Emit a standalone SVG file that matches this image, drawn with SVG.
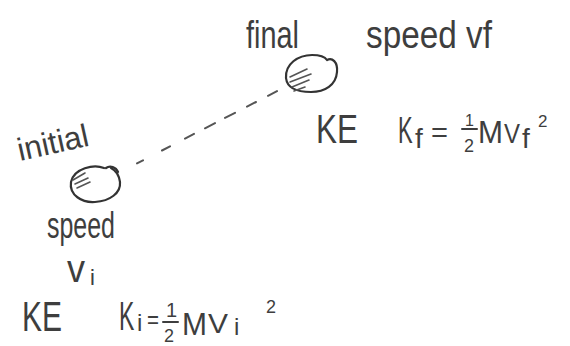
<svg xmlns="http://www.w3.org/2000/svg" width="570" height="346" viewBox="0 0 570 346">
<defs>
<style>
.hw{font-family:"Liberation Sans","DejaVu Sans",sans-serif;fill:#3e3e3e;}
.ball{fill:none;stroke:#333;stroke-width:2.2;stroke-linecap:round;stroke-linejoin:round;}
.hatch{fill:none;stroke:#555;stroke-width:1.6;stroke-linecap:round;}
.dash{fill:none;stroke:#555;stroke-width:2;stroke-linecap:round;}
.pen{fill:none;stroke:#3e3e3e;stroke-width:2;stroke-linecap:round;}
</style>
<linearGradient id="edge" x1="0" y1="0" x2="0" y2="1">
<stop offset="0" stop-color="#e6e6e6"/>
<stop offset="0.45" stop-color="#9a9a9a"/>
<stop offset="1" stop-color="#555"/>
</linearGradient>
</defs>
<rect width="570" height="346" fill="#fff"/>
<line x1="568.5" y1="40" x2="568.5" y2="346" stroke="url(#edge)" stroke-width="1.6"/>

<g id="connectors">
<path class="dash" d="M137,163.4 L143,160.3 M162,150.5 L170,146.3 M185,138.6 L194,133.9 M205,128.3 L215,123.1 M225,117.9 L235,112.8 M247,106.6 L256,102 M268,95.8 L277,91.1"/>
</g>

<g id="final-ball">
<path class="ball" d="M286,78 C285,64 298,55 312,55 C320,55 325,57 327,60 C332,57 338,62 337,72 C336,85 325,92 311,92 C296,92 287,87 286,78 Z"/>
<path class="hatch" d="M290,77 L307,69 M290,82 L311,74 M292,87 L309,80 M294,91 L305,87"/>
</g>

<g id="initial-ball">
<path class="ball" d="M104,168 C94,164 74,168 71,182 C69,195 82,203 95,202 C110,201 121,193 120,182 C119,175 115,170 111,168"/>
<path class="ball" d="M106,168 C110,165 116,167 118,172"/>
<path class="hatch" d="M73,180 L85,173 M75,184 L88,178 M77,188 L90,182"/>
</g>

<g id="final-labels">
<text class="hw" x="246" y="48" font-size="38" textLength="53" lengthAdjust="spacingAndGlyphs">final</text>
<text class="hw" x="366" y="48" font-size="38" textLength="126" lengthAdjust="spacingAndGlyphs">speed vf</text>
<text class="hw" x="316" y="143" font-size="41" textLength="42" lengthAdjust="spacingAndGlyphs">KE</text>
<text class="hw" transform="translate(398,143) scale(1,1.7)" font-size="22">K</text>
<text class="hw" x="415" y="148" font-size="28">f</text>
<text class="hw" x="431" y="142" font-size="28" textLength="17" lengthAdjust="spacingAndGlyphs">=</text>
<text class="hw" x="465" y="126" font-size="16">1</text>
<line class="pen" x1="462" y1="129" x2="477" y2="129"/>
<text class="hw" x="464" y="152" font-size="18">2</text>
<text class="hw" x="478" y="143" font-size="31" textLength="25" lengthAdjust="spacingAndGlyphs">M</text>
<text class="hw" x="504" y="143" font-size="28" textLength="16" lengthAdjust="spacingAndGlyphs">V</text>
<text class="hw" x="522" y="148" font-size="28">f</text>
<text class="hw" x="538" y="127" font-size="17">2</text>
</g>

<g id="initial-labels">
<text class="hw" transform="translate(20,161) rotate(-12.5)" font-size="32" textLength="72" lengthAdjust="spacingAndGlyphs">initial</text>
<text class="hw" x="47" y="238" font-size="36" textLength="68" lengthAdjust="spacingAndGlyphs">speed</text>
<text class="hw" x="67" y="282" font-size="38" textLength="18" lengthAdjust="spacingAndGlyphs">v</text>
<text class="hw" x="90" y="285" font-size="22">i</text>
<text class="hw" x="22" y="331" font-size="42" textLength="40" lengthAdjust="spacingAndGlyphs">KE</text>
<text class="hw" transform="translate(119,330) scale(1,1.8)" font-size="23">K</text>
<text class="hw" x="137" y="331" font-size="24">i</text>
<text class="hw" x="147" y="328" font-size="26" textLength="12" lengthAdjust="spacingAndGlyphs">=</text>
<text class="hw" x="166" y="317" font-size="20">1</text>
<line class="pen" x1="163" y1="322" x2="178" y2="322"/>
<text class="hw" x="164" y="342" font-size="18">2</text>
<text class="hw" x="182" y="335" font-size="31" textLength="25" lengthAdjust="spacingAndGlyphs">M</text>
<text class="hw" x="208" y="333" font-size="28" textLength="20" lengthAdjust="spacingAndGlyphs">V</text>
<text class="hw" x="234" y="335" font-size="24">i</text>
<text class="hw" x="266" y="313" font-size="18">2</text>
</g>
</svg>
